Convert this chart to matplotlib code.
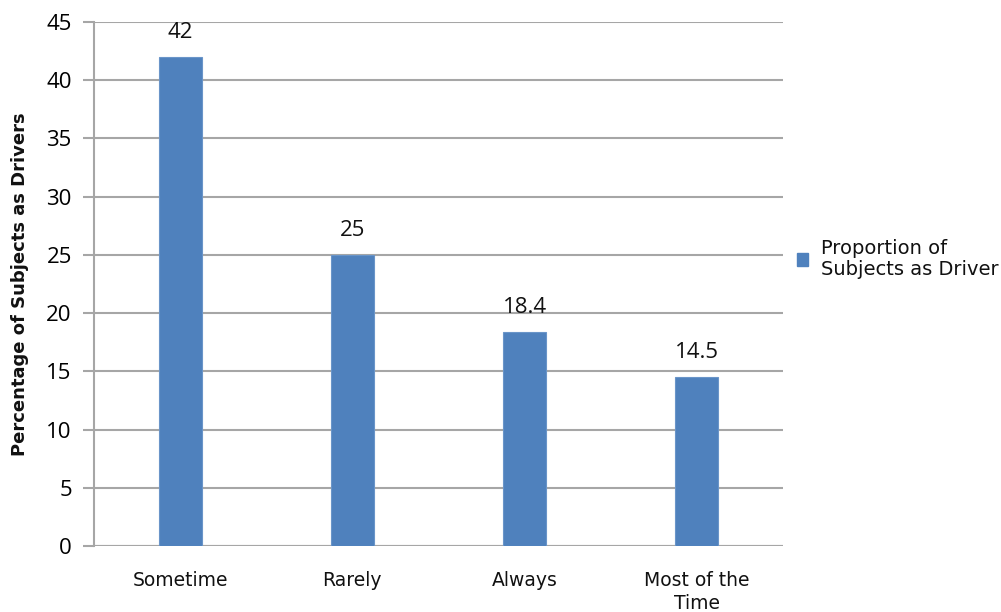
import matplotlib
matplotlib.use("Agg")
import matplotlib.pyplot as plt
from matplotlib.patches import Patch

categories = ["Sometime", "Rarely", "Always", "Most of the\nTime"]
values = [42, 25, 18.4, 14.5]
value_labels = ["42", "25", "18.4", "14.5"]
y_ticks = [0, 5, 10, 15, 20, 25, 30, 35, 40, 45]
series_name = "Proportion of\nSubjects as Driver"
y_label = "Percentage of Subjects as Drivers"

num_font = ["Open Sans", "DejaVu Sans"]
text_font = ["DejaVu Sans"]
plt.rcParams["font.family"] = num_font

fig = plt.figure(figsize=(10.01, 6.12), dpi=100)
W, H = 1001, 612
left, right, top, bottom = 94, 783, 22, 546
ax = fig.add_axes([left / W, 1 - bottom / H, (right - left) / W, (bottom - top) / H])

bar_color = "#4f81bd"
grid_color = "#a6a6a6"
x = range(len(categories))
ax.bar(x, values, width=0.25, color=bar_color, edgecolor="#6a95c9", linewidth=0.8, zorder=3)

for xi, v, lab in zip(x, values, value_labels):
    ax.annotate(lab, (xi, v), xytext=(0, 10), textcoords="offset points",
                ha="center", va="bottom", fontsize=16, color="#111111",
                family=num_font)

ax.set_xlim(-0.5, len(categories) - 0.5)
ax.set_ylim(0, 45)
ax.set_yticks(y_ticks)
ax.set_yticklabels([str(t) for t in y_ticks], fontsize=16, family=num_font)
ax.set_xticks(list(x))
ax.set_xticklabels(categories, fontsize=13.5, linespacing=1.25, family=text_font,
                   color="#111111")
ax.tick_params(axis="x", length=0, pad=18)
ax.tick_params(axis="y", length=8, width=1.5, color=grid_color, pad=8)
ax.grid(axis="y", color=grid_color, linewidth=1.5, zorder=0)
for side in ["top", "right", "bottom"]:
    ax.spines[side].set_visible(False)
ax.spines["left"].set_color(grid_color)
ax.spines["left"].set_linewidth(1.5)
# zero baseline extends over the tick area like the gridlines
ax.axhline(0, color=grid_color, linewidth=1.5, zorder=2)

ax.set_ylabel(y_label, fontsize=13, fontweight="bold", family=text_font,
              color="#111111")
ax.yaxis.set_label_coords(-(left - 29) / (right - left), 0.5)

handle = Patch(facecolor=bar_color, edgecolor=bar_color)
leg = fig.legend([handle], [series_name], loc="center left",
                 bbox_to_anchor=(789 / W, 1 - 259 / H), frameon=False,
                 prop={"family": text_font, "size": 14},
                 handlelength=0.6, handleheight=0.6,
                 handletextpad=0.65, borderaxespad=0, labelspacing=0)
for t in leg.get_texts():
    t.set_color("#111111")
    t.set_linespacing(1.15)

fig.savefig("out.png", dpi=100, facecolor="white")
